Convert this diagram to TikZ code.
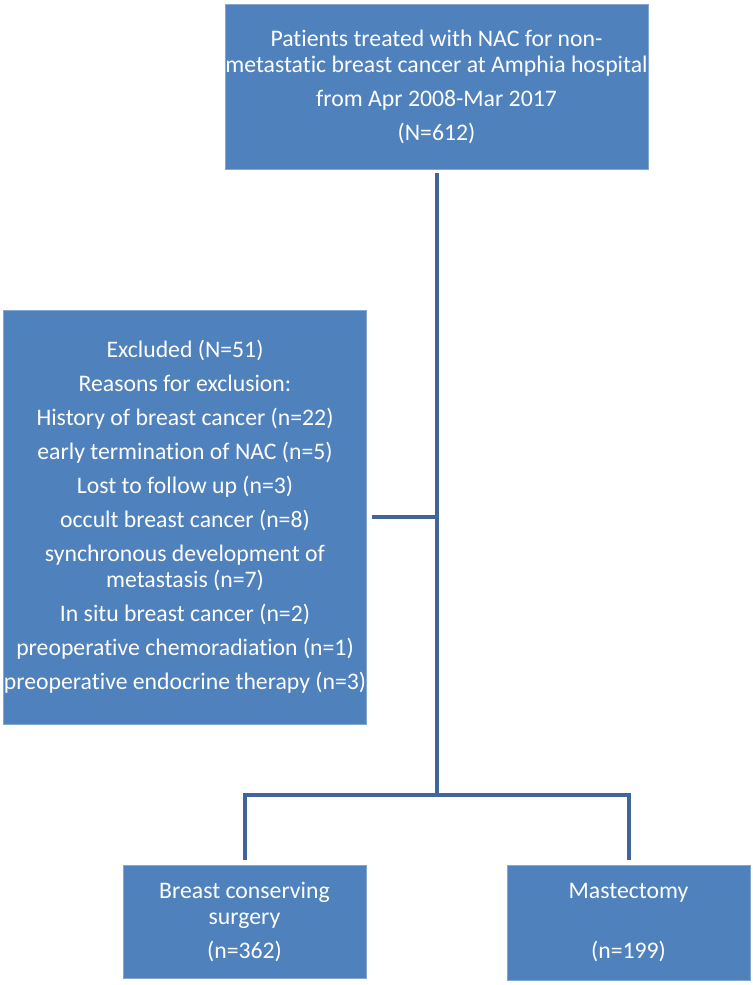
\documentclass[tikz,border=0pt]{standalone}
\usepackage{fontspec}
\setmainfont{Carlito}[Ligatures=NoCommon]
\usepackage{tikz}
\usetikzlibrary{positioning}
\definecolor{boxblue}{RGB}{79,129,189}
\definecolor{linkblue}{RGB}{65,100,155}

\begin{document}
\begin{tikzpicture}[x=0.75pt, y=-0.75pt, node distance=288pt]
  \tikzstyle{box} = [rectangle, fill=boxblue, draw=boxblue!70!white, line width=0.6pt, text=white, align=center, inner sep=0pt, font=\fontsize{17.8pt}{19.5pt}\selectfont]
  \tikzstyle{link} = [draw=linkblue, line width=3pt]

  \useasboundingbox (0,0) rectangle (753,985);

  \node (top) [box, minimum width=317.25pt, minimum height=123.75pt] at (436.5,86.5)
    {Patients treated with NAC for non-\\metastatic breast cancer at Amphia hospital\\[6pt]
     from Apr 2008-Mar 2017\\[6pt](N=612)};
  \node (excl) [box, minimum width=271.5pt, minimum height=310.5pt] at (185,517)
    {Excluded (N=51)\\[6pt]
     Reasons for exclusion:\\[6pt]
     History of breast cancer (n=22)\\[6pt]
     early termination of NAC (n=5)\\[6pt]
     Lost to follow up (n=3)\\[6pt]
     occult breast cancer (n=8)\\[6pt]
     synchronous development of\\metastasis (n=7)\\[6pt]
     In situ breast cancer (n=2)\\[6pt]
     preoperative chemoradiation (n=1)\\[6pt]
     preoperative endocrine therapy (n=3)};
  \node (bcs) [box, minimum width=182.25pt, minimum height=84.75pt] at (244.5,921.5)
    {Breast conserving\\surgery\\[6pt](n=362)};
  \node (mast) [box, minimum width=182.25pt, minimum height=86.25pt, right of=bcs, yshift=-0.75pt]
    {Mastectomy\\\mbox{}\\[6pt](n=199)};

  \coordinate (split) at (436.5,795);

  \draw [link] ([yshift=-3pt]top.south) -- (split);
  % branch to the excluded box
  \draw [link] ([xshift=3.75pt]excl.east) -- (excl.east -| split);
  \draw [link] ([yshift=3.75pt]bcs.north) |- (split) -| ([yshift=3.75pt]mast.north);
\end{tikzpicture}
\end{document}
